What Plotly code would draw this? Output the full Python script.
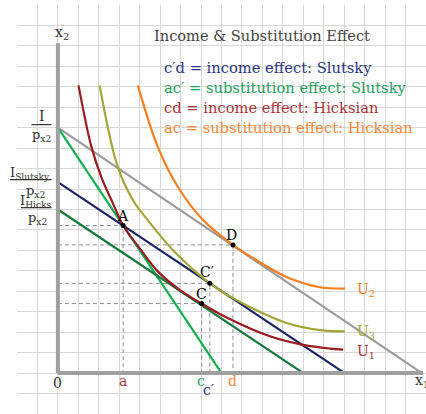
import plotly.graph_objects as go

# ---- budget lines (x1 intercepts / x2 intercepts) ----
budget_orig_x = [0, 17.8]
budget_orig_y = [12.0, 0]
budget_new_x = [0, 8.0]
budget_new_y = [12.0, 0]
slutsky_x = [0, 14.02]
slutsky_y = [9.34, 0]
hicks_x = [0, 12.0]
hicks_y = [8.0, 0]

# ---- indifference curves ----
u1_x = [1.01, 1.63, 2.12, 2.69, 3.19, 4.0, 4.91, 5.97, 7.03, 8.25, 10.37, 12.0, 13.3, 13.95]
u1_y = [14.07, 11.1, 9.6, 8.3, 7.22, 6.1, 4.95, 4.06, 3.4, 2.72, 1.8, 1.38, 1.2, 1.15]
u3_x = [2.04, 2.93, 3.68, 4.4, 5.64, 7.43, 8.25, 9.55, 11.18, 12.81, 14.03]
u3_y = [14.07, 10.07, 8.44, 7.47, 6.0, 4.39, 3.85, 3.15, 2.45, 2.1, 2.04]
u2_x = [3.91, 4.89, 5.87, 7.11, 8.56, 9.55, 11.18, 12.81, 14.03]
u2_y = [14.07, 11.05, 9.1, 7.47, 6.27, 5.62, 4.7, 4.2, 4.13]

# ---- named bundles ----
pt_names = ["A", "C", "C′", "D"]
pt_x = [3.19, 7.03, 7.43, 8.56]
pt_y = [7.22, 3.4, 4.39, 6.27]

legend_lines = [
    "c′d = income effect: Slutsky",
    "ac′ = substitution effect: Slutsky",
    "cd = income effect: Hicksian",
    "ac = substitution effect: Hicksian",
]

FONT = "DejaVu Serif"
C_GRAY = "#9b9b9b"
C_BGREEN = "#10b04e"
C_NAVY = "#1b2263"
C_DGREEN = "#13793c"
C_RED = "#9a1b20"
C_OLIVE = "#a2a636"
C_ORANGE = "#f57f20"
legend_colors = ["#2c3580", "#25a05e", "#ab3437", "#f5893a"]

fig = go.Figure()

# dashed guides from each bundle to both axes
for x, y in zip(pt_x, pt_y):
    fig.add_trace(go.Scatter(x=[0, x, x], y=[y, y, 0], mode="lines",
                             line=dict(color="#8f8f8f", width=1, dash="4px,3px"),
                             hoverinfo="skip"))

def line(x, y, color, shape="linear", width=2.2):
    fig.add_trace(go.Scatter(x=x, y=y, mode="lines",
                             line=dict(color=color, width=width, shape=shape, smoothing=1.0),
                             hoverinfo="skip"))

line(budget_orig_x, budget_orig_y, C_GRAY)
line(budget_new_x, budget_new_y, C_BGREEN)
line(slutsky_x, slutsky_y, C_NAVY)
line(hicks_x, hicks_y, C_DGREEN)
line(u1_x, u1_y, C_RED, "spline")
line(u3_x, u3_y, C_OLIVE, "spline")
line(u2_x, u2_y, C_ORANGE, "spline")

# axes drawn as thick gray strokes
fig.add_trace(go.Scatter(x=[0, 0], y=[16.13, 0], mode="lines",
                         line=dict(color="#a0a0a0", width=4), hoverinfo="skip"))
fig.add_trace(go.Scatter(x=[0, 17.85], y=[0, 0], mode="lines",
                         line=dict(color="#a0a0a0", width=4), hoverinfo="skip"))

fig.add_trace(go.Scatter(x=pt_x, y=pt_y, mode="markers",
                         marker=dict(color="black", size=5), hoverinfo="skip"))

ann = []
def txt(x, y, s, color="black", size=14, xanchor="center"):
    ann.append(dict(x=x, y=y, text=s, showarrow=False, xanchor=xanchor, yanchor="middle",
                    font=dict(family=FONT, size=size, color=color)))

txt(9.98, 16.51, "Income &amp; Substitution Effect", "#444444", size=14.6)
for i, (s, c) in enumerate(zip(legend_lines, legend_colors)):
    txt(5.1, 14.95 - 0.98 * i, s, c, size=14.7, xanchor="left")

# point labels
label_off = [(0.0, 0.48), (-0.03, 0.45), (-0.16, 0.57), (-0.06, 0.46)]
for n, x, y, (dx, dy) in zip(pt_names, pt_x, pt_y, label_off):
    txt(x + dx, y + dy, n)

# axis tick letters
txt(pt_x[0], -0.39, "a", "#b03a3e")
txt(pt_x[1] - 0.01, -0.39, "c", "#25a05e")
txt(pt_x[2] - 0.09, -0.83, "c′", "#2c3580")
txt(pt_x[3] - 0.03, -0.39, "d", "#f5893a")
txt(0.0, -0.48, "0", "#333333")
txt(17.8, -0.37, "x<sub>1</sub>", "#333333")
txt(0.2, 16.61, "x<sub>2</sub>", "#333333")

# curve names
txt(14.55, 4.06, "U<sub>2</sub>", C_ORANGE, xanchor="left")
txt(14.55, 2.0, "U<sub>3</sub>", C_OLIVE, xanchor="left")
txt(14.55, 1.03, "U<sub>1</sub>", "#ab3437", xanchor="left")

# intercept fractions on the x2 axis
txt(-0.8, 12.55, "I", "#333333")
txt(-0.8, 11.62, "p<sub>x2</sub>", "#333333", size=13)
txt(-1.37, 9.78, "I<sub>Slutsky</sub>", "#333333", size=13)
txt(-1.12, 8.9, "p<sub>x2</sub>", "#333333", size=13)
txt(-1.08, 8.4, "I<sub>Hicks</sub>", "#333333", size=13)
txt(-0.98, 7.55, "p<sub>x2</sub>", "#333333", size=13)

def px(v):
    return (v + 2) / 20.0

shapes = []
for x0, x1, y in [(-1.29, -0.31, 12.15), (-2.35, -0.31, 9.46), (-1.81, -0.31, 8.09)]:
    shapes.append(dict(type="line", xref="paper", yref="paper",
                       x0=px(x0), x1=px(x1), y0=px(y), y1=px(y),
                       line=dict(color="#333333", width=1.2)))

fig.update_layout(
    width=426, height=414,
    margin=dict(l=17, r=0, t=5, b=0),
    paper_bgcolor="white", plot_bgcolor="white",
    showlegend=False,
    annotations=ann, shapes=shapes,
    xaxis=dict(range=[-2, 18], dtick=1, tick0=0, showgrid=True, gridcolor="#d8d8d8",
               gridwidth=1, zeroline=False, showticklabels=False, ticks="", fixedrange=True),
    yaxis=dict(range=[-2, 18], dtick=1, tick0=0, showgrid=True, gridcolor="#d8d8d8",
               gridwidth=1, zeroline=False, showticklabels=False, ticks="", fixedrange=True),
)

fig.write_html("out.html")
